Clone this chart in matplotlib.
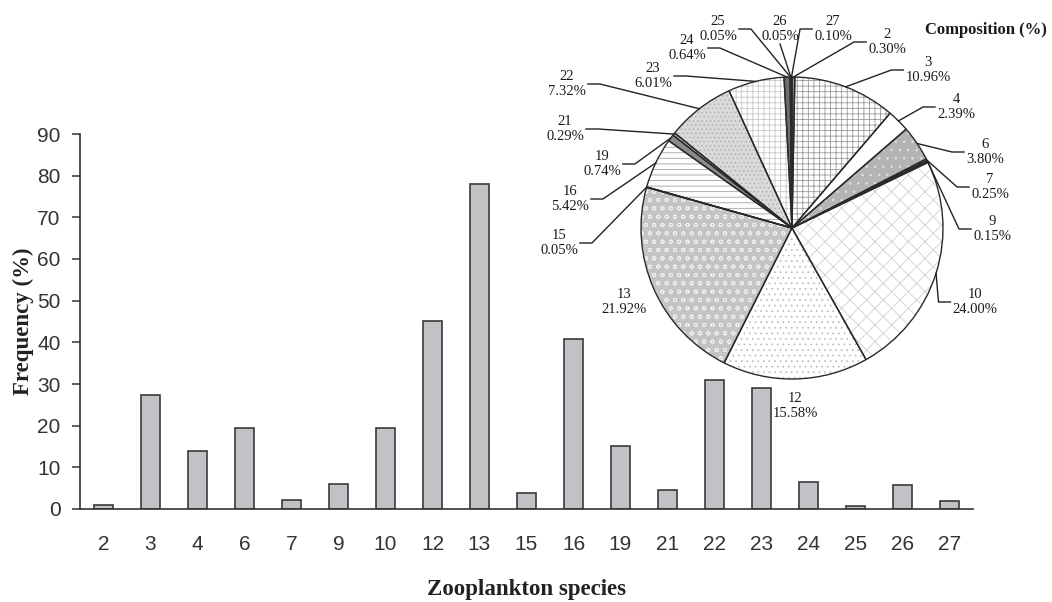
import numpy as np
import matplotlib.pyplot as plt
from matplotlib.lines import Line2D

# zooplankton species codes, shared by both panels
species = ['2', '3', '4', '6', '7', '9', '10', '12', '13', '15',
           '16', '19', '21', '22', '23', '24', '25', '26', '27']

# frequency of occurrence (%)
frequency = [0.9, 27.3, 13.9, 19.5, 2.2, 6.1, 19.5, 45.1, 78.1, 3.8,
             40.8, 15.1, 4.6, 30.9, 29.0, 6.5, 0.8, 5.8, 2.0]

# composition (%) shown in the pie
composition = [0.30, 10.96, 2.39, 3.80, 0.25, 0.15, 24.00, 15.58, 21.92, 0.05,
               5.42, 0.74, 0.29, 7.32, 6.01, 0.64, 0.05, 0.05, 0.10]

# pie label centres in figure pixels (from top-left), and whether a leader line is drawn
label_px = [(887, 42), (928, 70), (956, 107), (985, 152), (990, 187), (992, 229),
            (975, 302), (795, 406), (624, 302), (559, 243), (570, 199), (602, 164),
            (565, 129), (567, 84), (653, 76), (687, 48), (718, 29), (780, 29), (833, 29)]
has_leader = [True, True, True, True, True, True, True, False, False, True,
              True, True, True, True, True, True, True, True, True]

# wedge styles: face colour, hatch, hatch colour
wedge_face = ['#8a8a8a', 'white', 'white', '#b4b4b4', '#5a5a5a', 'white', 'white',
              'white', '#c4c4c4', 'white', 'white', '#8c8c8c', '#d0d0d0', '#dadada',
              'white', '#6e6e6e', '#444444', '#bbbbbb', '#555555']
wedge_hatch = ['', '+++', '', '..', '//////', '', 'xx', '...', 'oo', '',
               '---', '', '---', '....', '+++', '', '', '', '']
hatch_col = ['#8a8a8a', '#9a9a9a', 'white', '#e0e0e0', '#111111', 'white', '#cfcfcf',
             '#c0c0c0', '#f2f2f2', 'white', '#a0a0a0', '#8c8c8c', '#888888', '#b0b0b0',
             '#c8c8c8', '#6e6e6e', '#444444', '#bbbbbb', '#555555']

plt.rcParams['hatch.linewidth'] = 0.6

W, H = 1052, 602
fig = plt.figure(figsize=(W / 100, H / 100), dpi=100)

tick_font = ['Liberation Sans', 'DejaVu Sans']
serif = ['Liberation Serif', 'DejaVu Serif']

# ---- bar chart ----
ax = fig.add_axes([80 / W, 1 - 509 / H, 893 / W, 375 / H])
x = np.arange(len(species))
ax.bar(x, frequency, width=0.42, color='#c2c2c6', edgecolor='#3a3a3a', linewidth=1.2)
ax.set_xlim(-0.5, len(species) - 0.5)
ax.set_ylim(0, 90)
ax.set_yticks(range(0, 91, 10))
ax.set_xticks(x)
ax.set_xticklabels(species)
for s in ['top', 'right']:
    ax.spines[s].set_visible(False)
for s in ['left', 'bottom']:
    ax.spines[s].set_color('#333333')
    ax.spines[s].set_linewidth(1.2)
ax.tick_params(axis='y', direction='out', length=6, width=1.1, color='#333333', pad=8)
ax.tick_params(axis='x', length=0, pad=19)
for lab in ax.get_xticklabels() + ax.get_yticklabels():
    lab.set_family(tick_font)
    lab.set_fontsize(15)
    lab.set_color('#333333')
ax.set_ylabel('Frequency (%)', family=serif, fontweight='bold', fontsize=16.5,
              color='#222222', va='center')
ax.yaxis.set_label_coords(-57 / 893, 0.5)
ax.set_xlabel('Zooplankton species', family=serif, fontweight='bold', fontsize=16.5,
              color='#222222', va='center')
ax.xaxis.set_label_coords(0.5, -80 / 375)

# ---- pie chart ----
R = 151
cx, cy = 792, 228
half = 1.25 * R
pax = fig.add_axes([(cx - half) / W, 1 - (cy + half) / H, 2 * half / W, 2 * half / H])
pax.patch.set_visible(False)
wedges, _ = pax.pie(composition, startangle=90, counterclock=False, radius=1)
for w, fc, ht, hc in zip(wedges, wedge_face, wedge_hatch, hatch_col):
    w.set_facecolor(fc)
    w.set_hatch(ht)
    w.set_edgecolor(hc)
    w.set_linewidth(0)
outline, _ = pax.pie(composition, startangle=90, counterclock=False, radius=1,
                     wedgeprops=dict(facecolor='none', edgecolor='#2a2a2a', linewidth=1.0))
pax.set_xlim(-1.25, 1.25)
pax.set_ylim(-1.25, 1.25)
pax.set_aspect('auto')

texts = []
for sp, val, (px, py) in zip(species, composition, label_px):
    t = fig.text(px / W, 1 - py / H, f'{sp}\n{val:.2f}%', ha='center', va='center',
                 family=serif, fontsize=10.5, color='#1a1a1a', linespacing=1.2)
    texts.append(t)

fig.text(986 / W, 1 - 30 / H, 'Composition (%)', ha='center', va='center',
         family=serif, fontweight='bold', fontsize=12, color='#1a1a1a')

# leader lines from the wedge edge to the label
fig.canvas.draw()
renderer = fig.canvas.get_renderer()
to_fig = fig.transFigure.inverted()
total = sum(composition)
cum = np.cumsum(composition)
for i, t in enumerate(texts):
    if not has_leader[i]:
        continue
    mid = (cum[i] - composition[i] / 2) / total
    ang = np.deg2rad(90 - 360 * mid)
    ex, ey = pax.transData.transform((np.cos(ang), np.sin(ang)))
    bb = t.get_window_extent(renderer)
    tcx = (bb.x0 + bb.x1) / 2
    tcy = (bb.y0 + bb.y1) / 2
    if abs(tcx - ex) < 12:
        pts = [(tcx, bb.y0 - 1), (ex, ey)]
    elif tcx > ex:
        pts = [(bb.x0 - 2, tcy), (bb.x0 - 14, tcy), (ex, ey)]
    else:
        pts = [(bb.x1 + 2, tcy), (bb.x1 + 14, tcy), (ex, ey)]
    fpts = to_fig.transform(pts)
    fig.add_artist(Line2D(fpts[:, 0], fpts[:, 1], transform=fig.transFigure,
                          color='#222222', linewidth=1.0))

fig.savefig('out.png', dpi=100)
